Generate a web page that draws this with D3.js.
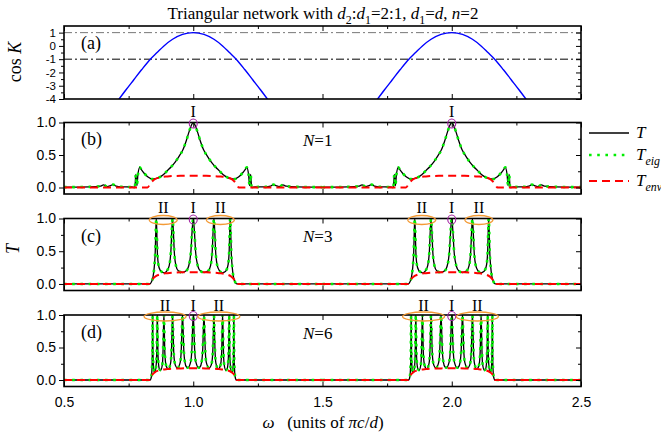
<!DOCTYPE html>
<html>
<head>
<meta charset="utf-8">
<script src="https://cdn.jsdelivr.net/npm/d3@7/dist/d3.min.js"></script>
<style>
body { margin: 0; background: #fff; }
</style>
</head>
<body>
<div id="chart"></div>
<script>
// both pass bands look the same, so every profile is stored as [offset from band centre, value]
var bandCentres = [1.0, 2.0];

var xMajor = [0.5, 1.0, 1.5, 2.0, 2.5];
var xMinor = [0.75, 1.25, 1.75, 2.25];
var cosMajor = [-4, -3, -2, -1, 0, 1];
var cosMinor = [-3.5, -2.5, -1.5, -0.5, 0.5];
var tMajor = [0, 0.5, 1.0];
var tMinor = [0.25, 0.75];
var cosRefLines = [1, -1];

// (a) cos K
var cosK = [[-0.29,-4.08],[-0.26,-3.3],[-0.23,-2.55],[-0.2,-1.8],[-0.166,-1.0],[-0.14,-0.5],[-0.1135,0],[-0.08,0.5],[-0.0415,0.866],[0,1],
  [0.0415,0.866],[0.08,0.5],[0.1135,0],[0.14,-0.5],[0.166,-1.0],[0.2,-1.8],[0.23,-2.55],[0.26,-3.3],[0.29,-4.08]];

// (b) N=1
var tB = [[-0.5,0.005],[-0.4,0.01],[-0.36,0.02],[-0.347,0.04],[-0.333,0.015],[-0.322,0.025],[-0.31,0.045],[-0.298,0.02],[-0.28,0.01],[-0.24,0.008],
  [-0.226,0.0],[-0.222,0.2],[-0.218,0.03],[-0.214,0.2],[-0.207,0.31],[-0.2,0.27],[-0.19,0.22],[-0.175,0.16],[-0.16,0.13],[-0.145,0.135],
  [-0.13,0.16],[-0.115,0.2],[-0.1,0.26],[-0.085,0.32],[-0.07,0.39],[-0.055,0.48],[-0.04,0.58],[-0.027,0.72],[-0.016,0.86],[-0.008,0.95],
  [0,1.0],
  [0.008,0.95],[0.016,0.86],[0.027,0.72],[0.04,0.58],[0.055,0.48],[0.07,0.39],[0.085,0.32],[0.1,0.26],[0.115,0.2],[0.13,0.16],
  [0.145,0.135],[0.16,0.13],[0.175,0.16],[0.19,0.22],[0.2,0.27],[0.207,0.31],[0.214,0.2],[0.218,0.03],[0.222,0.2],[0.226,0.0],
  [0.24,0.008],[0.28,0.01],[0.298,0.02],[0.31,0.045],[0.322,0.025],[0.333,0.015],[0.347,0.04],[0.36,0.02],[0.4,0.01],[0.5,0.005]];
var envB = [[-0.5,0],[-0.177,0],[-0.166,0.06],[-0.152,0.12],[-0.13,0.155],[-0.1,0.17],[-0.05,0.18],[0,0.182],
  [0.05,0.18],[0.1,0.17],[0.13,0.155],[0.152,0.12],[0.166,0.06],[0.177,0],[0.5,0]];

// (c) N=3
var tC = [[-0.5,0],[-0.168,0],[-0.162,0.03],[-0.156,0.1],[-0.151,0.25],[-0.147,0.5],[-0.145,0.8],[-0.143,1.0],[-0.141,0.8],[-0.139,0.5],[-0.135,0.3],[-0.128,0.21],[-0.12,0.18],[-0.112,0.17],
  [-0.102,0.2],[-0.093,0.28],[-0.0865,0.5],[-0.0832,0.8],[-0.08,1.0],[-0.0768,0.8],[-0.0735,0.5],[-0.067,0.28],[-0.058,0.2],[-0.042,0.175],
  [-0.027,0.2],[-0.018,0.27],[-0.009,0.5],[-0.0045,0.8],[0,1.0],
  [0.0045,0.8],[0.009,0.5],[0.018,0.27],[0.027,0.2],[0.042,0.175],
  [0.058,0.2],[0.067,0.28],[0.0735,0.5],[0.0768,0.8],[0.08,1.0],[0.0832,0.8],[0.0865,0.5],[0.093,0.28],[0.102,0.2],
  [0.112,0.17],[0.12,0.18],[0.128,0.21],[0.135,0.3],[0.139,0.5],[0.141,0.8],[0.143,1.0],[0.145,0.8],[0.147,0.5],[0.151,0.25],[0.156,0.1],[0.162,0.03],[0.168,0],[0.5,0]];
var envC = [[-0.5,0],[-0.17,0],[-0.16,0.06],[-0.148,0.11],[-0.13,0.145],[-0.1,0.165],[-0.05,0.178],[0,0.18],
  [0.05,0.178],[0.1,0.165],[0.13,0.145],[0.148,0.11],[0.16,0.06],[0.17,0],[0.5,0]];

// (d) N=6
var tD = [[-0.5,0],[-0.167,0],[-0.162,0.05],[-0.1594,0.2],[-0.1582,0.5],[-0.1576,0.8],[-0.157,1.0],[-0.1564,0.8],[-0.1558,0.5],[-0.1546,0.25],[-0.152,0.14],[-0.148,0.12],
  [-0.143,0.25],[-0.141,0.5],[-0.14,0.8],[-0.139,1.0],[-0.138,0.8],[-0.137,0.5],[-0.135,0.28],[-0.131,0.17],[-0.126,0.15],
  [-0.1195,0.24],[-0.1165,0.5],[-0.115,0.8],[-0.1135,1.0],[-0.112,0.8],[-0.1105,0.5],[-0.1075,0.28],[-0.102,0.19],[-0.097,0.17],
  [-0.0876,0.26],[-0.0838,0.5],[-0.0819,0.8],[-0.08,1.0],[-0.0781,0.8],[-0.0762,0.5],[-0.0724,0.28],[-0.066,0.2],[-0.061,0.185],
  [-0.0505,0.27],[-0.046,0.5],[-0.0437,0.8],[-0.0415,1.0],[-0.0393,0.8],[-0.037,0.5],[-0.0325,0.28],[-0.026,0.2],[-0.021,0.19],
  [-0.01,0.28],[-0.005,0.5],[-0.0025,0.8],[0,1.0],
  [0.0025,0.8],[0.005,0.5],[0.01,0.28],
  [0.021,0.19],[0.026,0.2],[0.0325,0.28],[0.037,0.5],[0.0393,0.8],[0.0415,1.0],[0.0437,0.8],[0.046,0.5],[0.0505,0.27],
  [0.061,0.185],[0.066,0.2],[0.0724,0.28],[0.0762,0.5],[0.0781,0.8],[0.08,1.0],[0.0819,0.8],[0.0838,0.5],[0.0876,0.26],
  [0.097,0.17],[0.102,0.19],[0.1075,0.28],[0.1105,0.5],[0.112,0.8],[0.1135,1.0],[0.115,0.8],[0.1165,0.5],[0.1195,0.24],
  [0.126,0.15],[0.131,0.17],[0.135,0.28],[0.137,0.5],[0.138,0.8],[0.139,1.0],[0.14,0.8],[0.141,0.5],[0.143,0.25],
  [0.148,0.12],[0.152,0.14],[0.1546,0.25],[0.1558,0.5],[0.1564,0.8],[0.157,1.0],[0.1576,0.8],[0.1582,0.5],[0.1594,0.2],[0.162,0.05],[0.167,0],[0.5,0]];
var envD = [[-0.5,0],[-0.168,0],[-0.16,0.07],[-0.148,0.12],[-0.13,0.15],[-0.1,0.168],[-0.05,0.178],[0,0.18],
  [0.05,0.178],[0.1,0.168],[0.13,0.15],[0.148,0.12],[0.16,0.07],[0.168,0],[0.5,0]];

// T_eig lies on top of T everywhere in the picture
var tEigB = tB, tEigC = tC, tEigD = tD;

// peak markers: offset from band centre and label
var marksB = [[0, "I"]];
var marksC = [[-0.116, "II"], [0, "I"], [0.105, "II"]];
var marksD = [[-0.109, "II"], [0, "I"], [0.099, "II"]];

var panelLabels = ["(a)", "(b)", "(c)", "(d)"];
var cellCounts = ["1", "3", "6"];

var serif = "'Liberation Serif','Times New Roman',Times,'DejaVu Serif',serif";
var sans = "'Liberation Sans',Arial,Helvetica,sans-serif";

var svg = d3.select("#chart").append("svg").attr("width", 661).attr("height", 437);
var x = d3.scaleLinear().domain([0.5, 2.5]).range([64, 581]);

function rich(text, parts, size) {
    var down = 0;
    parts.forEach(function(p) {
        var s = text.append("tspan").text(p[0]);
        var st = p[1] || "";
        if (st.indexOf("i") >= 0) s.attr("font-style", "italic");
        if (st.indexOf("s") >= 0) {
            s.attr("font-size", size * 0.7);
            if (!down) s.attr("dy", size * 0.28);
            down = 1;
        } else if (down) {
            s.attr("dy", -size * 0.28);
            down = 0;
        }
    });
}

function makePanel(key, top, bottom, domain) {
    var y = d3.scaleLinear().domain(domain).range([bottom, top]);
    var g = svg.append("g");
    g.append("clipPath").attr("id", "clip" + key)
        .append("rect").attr("x", 64).attr("y", top).attr("width", 517).attr("height", bottom - top);
    return { key: key, y: y, g: g, top: top, bottom: bottom };
}

function clean(s, size) {
    s.select(".domain").remove();
    s.selectAll("text").attr("font-family", sans).attr("font-size", size || 14).attr("fill", "#000");
    s.selectAll("line").attr("stroke", "#000").attr("stroke-width", 1);
}

function axes(p, yMajor, yMinor, yFmt, labelX, ySize) {
    var g = p.g;
    g.append("g").attr("transform", "translate(0," + p.bottom + ")")
        .call(d3.axisBottom(x).tickValues(xMajor).tickSize(-5).tickPadding(11).tickFormat(labelX ? d3.format(".1f") : ""))
        .call(clean);
    g.append("g").attr("transform", "translate(0," + p.bottom + ")")
        .call(d3.axisBottom(x).tickValues(xMinor).tickSize(-3).tickFormat("")).call(clean);
    g.append("g").attr("transform", "translate(0," + p.top + ")")
        .call(d3.axisTop(x).tickValues(xMajor).tickSize(-5).tickFormat("")).call(clean);
    g.append("g").attr("transform", "translate(0," + p.top + ")")
        .call(d3.axisTop(x).tickValues(xMinor).tickSize(-3).tickFormat("")).call(clean);
    g.append("g").attr("transform", "translate(64,0)")
        .call(d3.axisLeft(p.y).tickValues(yMajor).tickSize(5).tickPadding(3).tickFormat(yFmt))
        .call(clean, ySize);
    g.append("g").attr("transform", "translate(64,0)")
        .call(d3.axisLeft(p.y).tickValues(yMinor).tickSize(3).tickFormat("")).call(clean);
    g.append("g").attr("transform", "translate(581,0)")
        .call(d3.axisRight(p.y).tickValues(yMajor).tickSize(-5).tickFormat("")).call(clean);
    g.append("g").attr("transform", "translate(581,0)")
        .call(d3.axisRight(p.y).tickValues(yMinor).tickSize(-3).tickFormat("")).call(clean);
    g.append("rect").attr("x", 64).attr("y", p.top).attr("width", 517).attr("height", p.bottom - p.top)
        .attr("fill", "none").attr("stroke", "#000").attr("stroke-width", 1.6);
}

function profile(p, data, style) {
    bandCentres.forEach(function(c) {
        var line = d3.line().curve(d3.curveMonotoneX)
            .x(function(d) { return x(c + d[0]); })
            .y(function(d) { return p.y(d[1]); });
        var path = p.g.append("path").datum(data)
            .attr("clip-path", "url(#clip" + p.key + ")")
            .attr("fill", "none")
            .attr("d", line);
        style(path);
    });
}

function styleT(s) { s.attr("stroke", "#000").attr("stroke-width", 1.3); }
function styleEig(s) { s.attr("stroke", "#00ee00").attr("stroke-width", 2.6).attr("stroke-dasharray", "2.6,5.6"); }
function styleEnv(s) { s.attr("stroke", "#ff0000").attr("stroke-width", 2).attr("stroke-dasharray", "8,5"); }

// title
rich(svg.append("text").attr("x", 323).attr("y", 19).attr("text-anchor", "middle")
    .attr("font-family", serif).attr("font-size", 17),
    [["Triangular network with "], ["d", "i"], ["2", "s"], [":"], ["d", "i"], ["1", "s"], ["=2:1, "],
     ["d", "i"], ["1", "s"], ["="], ["d", "i"], [", "], ["n", "i"], ["=2"]], 17);

// (a)
var pa = makePanel("a", 26, 99, [-4, 1.5]);
cosRefLines.forEach(function(v, i) {
    pa.g.append("line").attr("x1", 64).attr("x2", 581).attr("y1", pa.y(v)).attr("y2", pa.y(v))
        .attr("stroke", i === 0 ? "#777" : "#000").attr("stroke-width", 1)
        .attr("stroke-dasharray", "8,3,2,3");
});
profile(pa, cosK, function(s) { s.attr("stroke", "#0000ff").attr("stroke-width", 1.4); });
axes(pa, cosMajor, cosMinor, function(d) { return String(d); }, false, 11.5);

// (b)-(d)
var tPanels = [
    { key: "b", top: 122.5, bottom: 194, t: tB, eig: tEigB, env: envB, marks: marksB, rx: 0, labelY: 117 },
    { key: "c", top: 218.5, bottom: 290.5, t: tC, eig: tEigC, env: envC, marks: marksC, rx: 14, labelY: 213 },
    { key: "d", top: 315, bottom: 386.5, t: tD, eig: tEigD, env: envD, marks: marksD, rx: 21, labelY: 310.5 }
];
var fmtT = d3.format(".1f");
tPanels.forEach(function(cfg, k) {
    var p = makePanel(cfg.key, cfg.top, cfg.bottom, [-0.1, 1.0]);
    profile(p, cfg.t, styleT);
    profile(p, cfg.eig, styleEig);
    profile(p, cfg.env, styleEnv);
    axes(p, tMajor, tMinor, fmtT, k === 2);
    bandCentres.forEach(function(c) {
        cfg.marks.forEach(function(m) {
            var cx = x(c + m[0]);
            p.g.append("text").attr("x", cx).attr("y", cfg.labelY).attr("text-anchor", "middle")
                .attr("font-family", serif).attr("font-size", 16).text(m[1]);
            if (m[1] === "I") {
                p.g.append("ellipse").attr("cx", cx).attr("cy", p.y(1) + 1).attr("rx", 4).attr("ry", 4.5)
                    .attr("fill", "none").attr("stroke", "#a020a0").attr("stroke-width", 1.1);
            } else {
                p.g.append("ellipse").attr("cx", cx).attr("cy", p.y(1) + 1.5).attr("rx", cfg.rx).attr("ry", 4.5)
                    .attr("fill", "none").attr("stroke", "#f39a35").attr("stroke-width", 1.3);
            }
        });
    });
    rich(svg.append("text").attr("x", 303).attr("y", cfg.top + 23.5)
        .attr("font-family", serif).attr("font-size", 17),
        [["N", "i"], ["=" + cellCounts[k]]], 17);
});

// panel labels
[49, 145, 241.5, 338].forEach(function(yy, i) {
    svg.append("text").attr("x", 81).attr("y", yy).attr("font-family", serif).attr("font-size", 18).text(panelLabels[i]);
});

// axis titles
rich(svg.append("text").attr("transform", "translate(21,62) rotate(-90)").attr("text-anchor", "middle")
    .attr("font-family", serif).attr("font-size", 18), [["cos "], ["K", "i"]], 18);
svg.append("text").attr("transform", "translate(19,249) rotate(-90)").attr("text-anchor", "middle")
    .attr("font-family", serif).attr("font-size", 18).attr("font-style", "italic").text("T");
rich(svg.append("text").attr("x", 323).attr("y", 428).attr("text-anchor", "middle")
    .attr("font-family", serif).attr("font-size", 17).attr("xml:space", "preserve"),
    [["\u03c9", "i"], ["\u2002 (units of "], ["\u03c0c", "i"], ["/"], ["d", "i"], [")"]], 17);

// legend
var legend = [
    { y: 133, style: styleT, parts: [["T", "i"]] },
    { y: 155, style: styleEig, parts: [["T", "i"], ["eig", "is"]] },
    { y: 181, style: styleEnv, parts: [["T", "i"], ["env", "is"]] }
];
legend.forEach(function(l) {
    var ln = svg.append("line").attr("x1", 589).attr("x2", 629).attr("y1", l.y).attr("y2", l.y);
    l.style(ln);
    rich(svg.append("text").attr("x", 636).attr("y", l.y + 5).attr("font-family", serif).attr("font-size", 17),
        l.parts, 17);
});
</script>
</body>
</html>
